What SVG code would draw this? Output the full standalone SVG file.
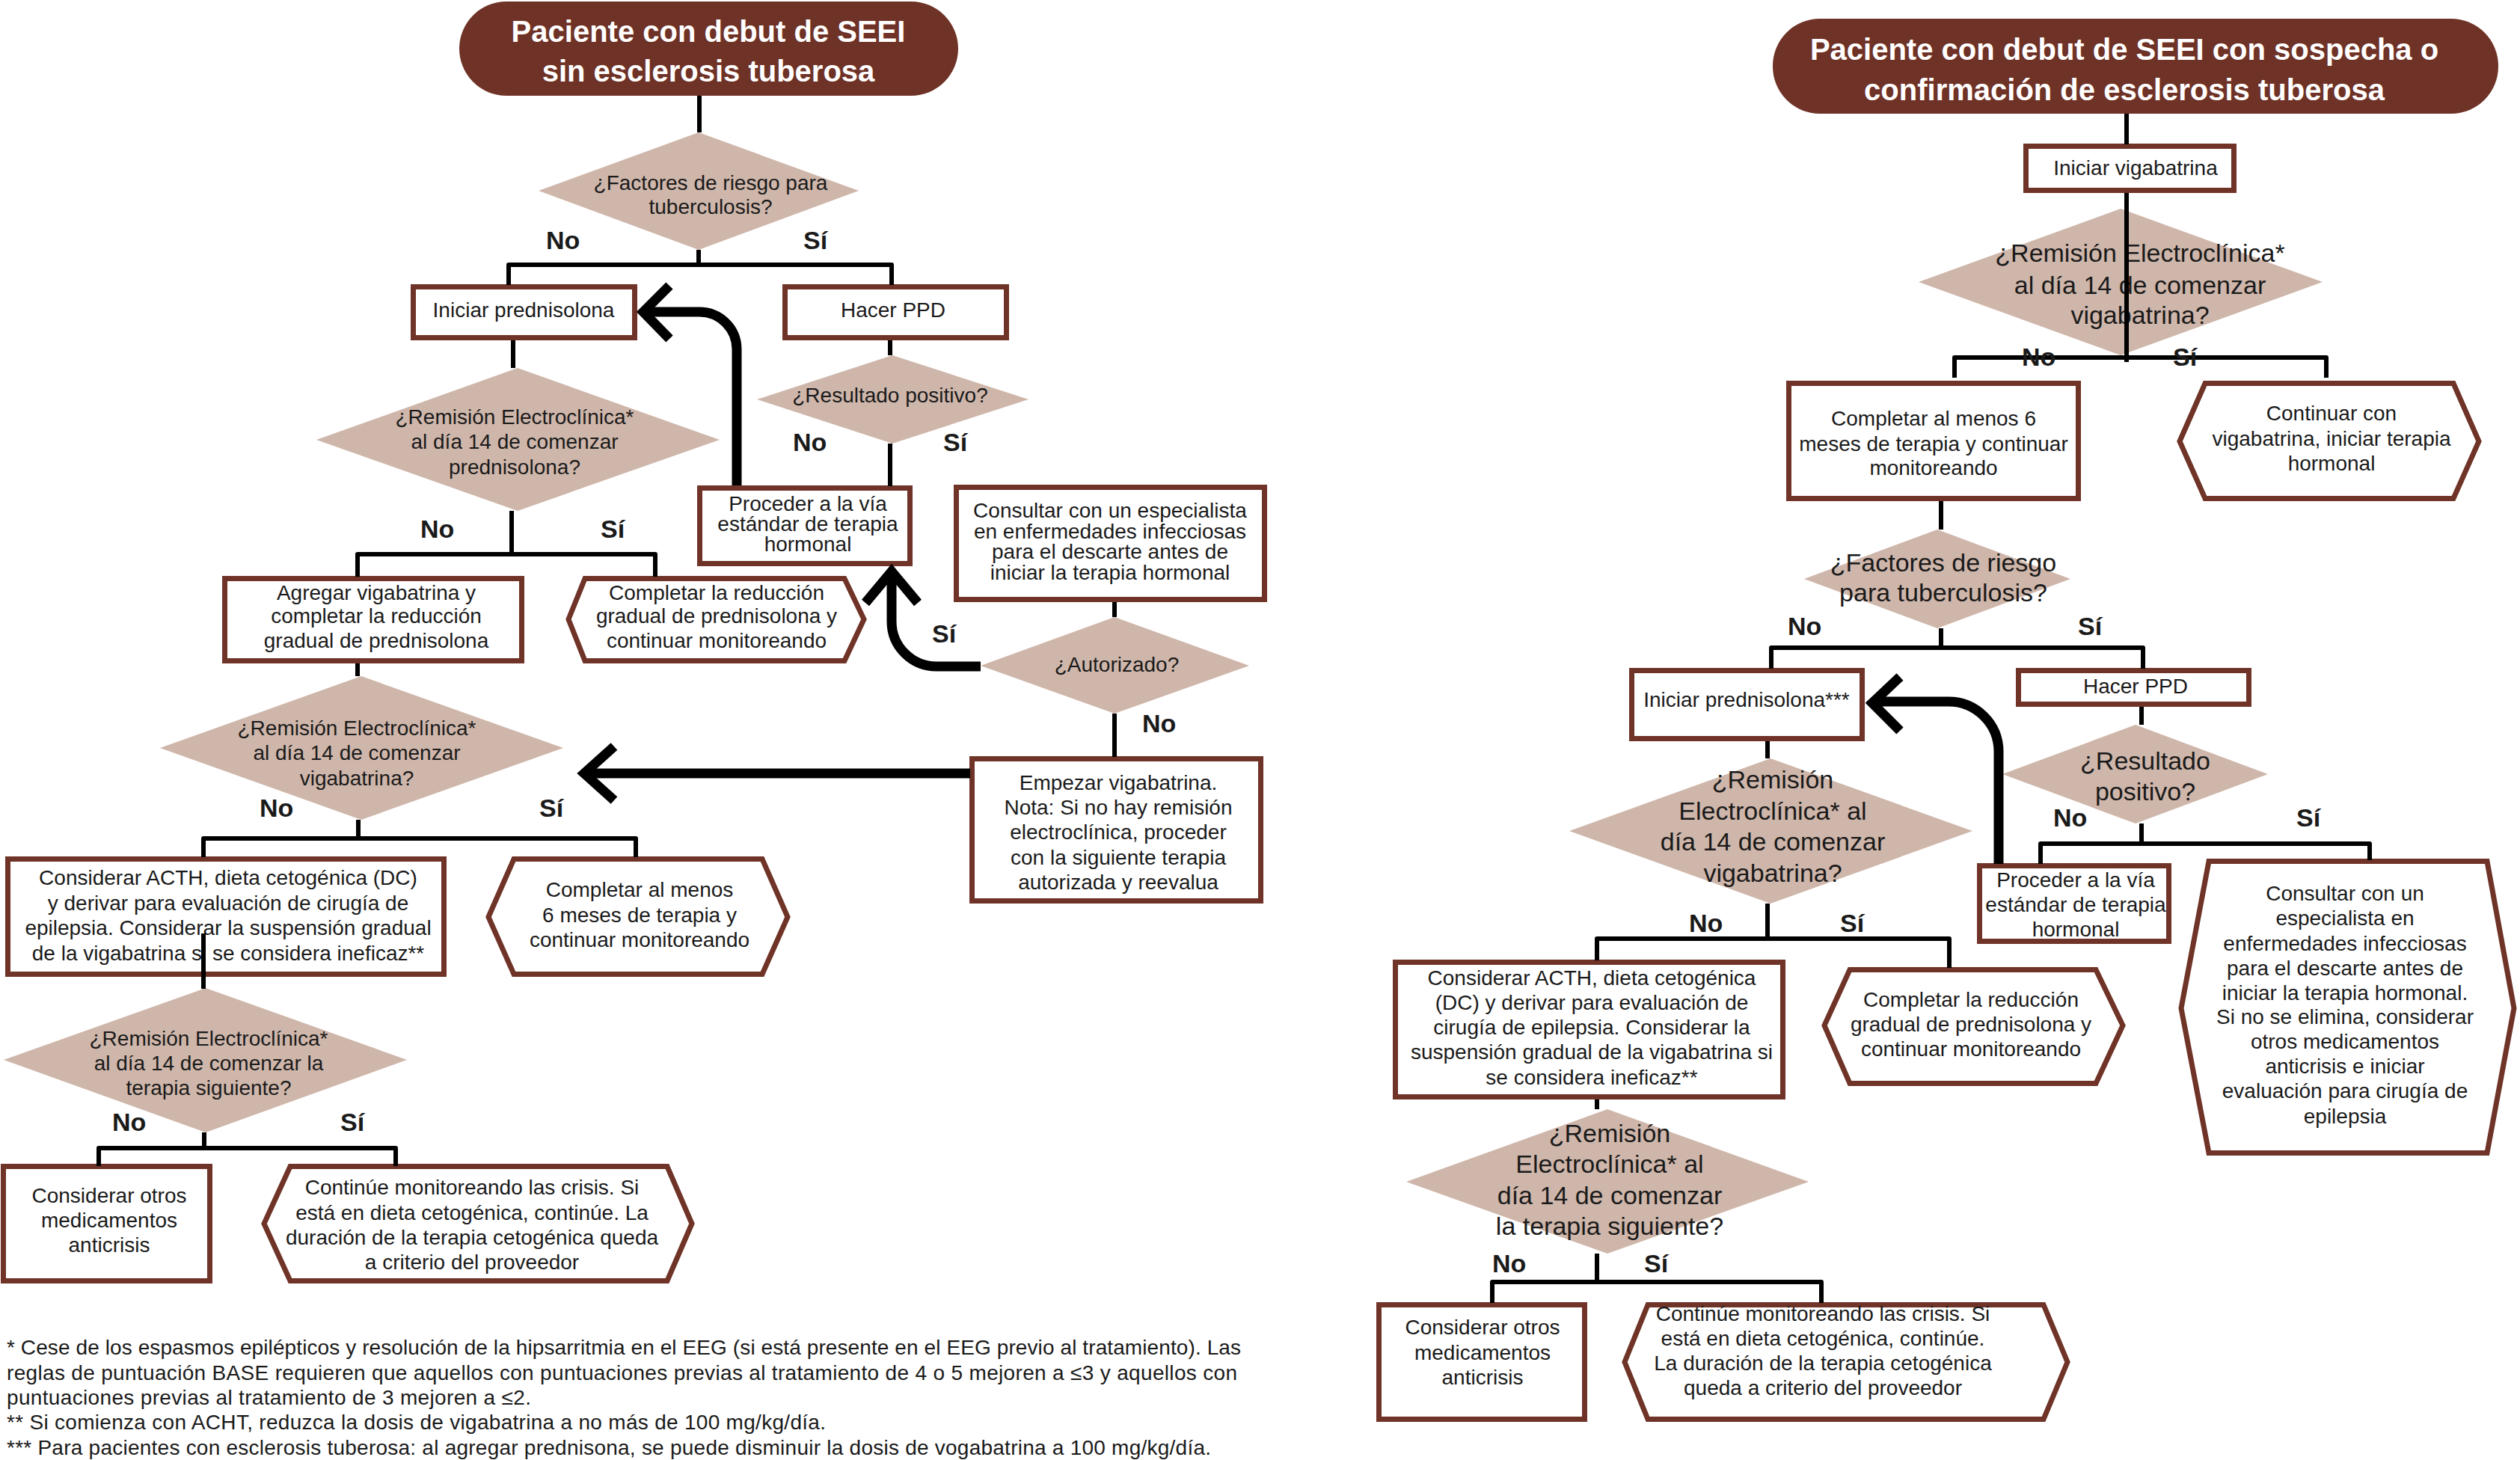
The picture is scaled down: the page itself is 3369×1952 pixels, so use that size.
<svg xmlns="http://www.w3.org/2000/svg" width="3369" height="1952" viewBox="0 0 3369 1952">
<style>
text{font-family:"Liberation Sans",Arial,sans-serif;fill:#1a1a1a}
.t{font-size:28px;text-anchor:middle}
.tb{font-size:34px;text-anchor:middle}
.lab{font-size:34px;font-weight:bold}
.ttl{font-size:40px;font-weight:bold;fill:#ffffff;text-anchor:middle}
.fn{font-size:28px}
.box{fill:#ffffff;stroke:#6f3327;stroke-width:7}
.dia{fill:#cfb6aa}
.pill{fill:#6f3226}
.ln{fill:none;stroke:#000;stroke-width:6;stroke-linejoin:round}
.thick{fill:none;stroke:#000;stroke-width:13}
</style>
<rect width="3369" height="1952" fill="#ffffff"/>

<!-- LEFT PANEL NODES -->
<g id="titleL"><rect class="pill" x="614" y="2" width="667" height="126" rx="63"/>
<text class="ttl" x="947" y="56">Paciente con debut de SEEI</text>
<text class="ttl" x="947" y="109">sin esclerosis tuberosa</text></g>

<g id="dTbL"><polygon class="dia" points="934,177 1148,255 934,334 720,255"/>
<text class="t" x="950" y="254">¿Factores de riesgo para</text>
<text class="t" x="950" y="286">tuberculosis?</text></g>

<g id="bPredL"><rect class="box" x="552.5" y="383.5" width="296" height="68"/>
<text class="t" x="700" y="424">Iniciar prednisolona</text></g>

<g id="bPpdL"><rect class="box" x="1049.5" y="383.5" width="296" height="68"/>
<text class="t" x="1194" y="424">Hacer PPD</text></g>

<g id="dResL"><polygon class="dia" points="1193,475 1375,534 1193,593 1012,534"/>
<text class="t" x="1190" y="538">¿Resultado positivo?</text></g>

<g id="bProcL"><rect class="box" x="935.5" y="652.5" width="281" height="101"/>
<text class="t" x="1080" y="683">Proceder a la vía</text>
<text class="t" x="1080" y="710">estándar de terapia</text>
<text class="t" x="1080" y="737">hormonal</text></g>

<g id="bConsL"><rect class="box" x="1278.5" y="651.5" width="412" height="150"/>
<text class="t" x="1484" y="692">Consultar con un especialista</text>
<text class="t" x="1484" y="720">en enfermedades infecciosas</text>
<text class="t" x="1484" y="747">para el descarte antes de</text>
<text class="t" x="1484" y="775">iniciar la terapia hormonal</text></g>

<g id="dAut"><polygon class="dia" points="1490,825 1670,890 1490,954 1311,890"/>
<text class="t" x="1493" y="898">¿Autorizado?</text></g>

<g id="bEmp"><rect class="box" x="1299.5" y="1014.5" width="386" height="190"/>
<text class="t" x="1495" y="1056">Empezar vigabatrina.</text>
<text class="t" x="1495" y="1089">Nota: Si no hay remisión</text>
<text class="t" x="1495" y="1122">electroclínica, proceder</text>
<text class="t" x="1495" y="1156">con la siguiente terapia</text>
<text class="t" x="1495" y="1189">autorizada y reevalua</text></g>

<g id="dRem1L"><polygon class="dia" points="692,492 962,588 692,683 423,588"/>
<text class="t" x="688" y="567">¿Remisión Electroclínica*</text>
<text class="t" x="688" y="600">al día 14 de comenzar</text>
<text class="t" x="688" y="634">prednisolona?</text></g>

<g id="bAgr"><rect class="box" x="300.5" y="773.5" width="397" height="110"/>
<text class="t" x="503" y="802">Agregar vigabatrina y</text>
<text class="t" x="503" y="833">completar la reducción</text>
<text class="t" x="503" y="866">gradual de prednisolona</text></g>

<g id="hRedL"><polygon class="box" points="760,828 782,773.5 1129,773.5 1155,828 1129,883.5 782,883.5"/>
<text class="t" x="958" y="802">Completar la reducción</text>
<text class="t" x="958" y="833">gradual de prednisolona y</text>
<text class="t" x="958" y="866">continuar monitoreando</text></g>

<g id="dRem2L"><polygon class="dia" points="483,904 753,1000 483,1096 214,1000"/>
<text class="t" x="477" y="983">¿Remisión Electroclínica*</text>
<text class="t" x="477" y="1016">al día 14 de comenzar</text>
<text class="t" x="477" y="1050">vigabatrina?</text></g>

<g id="bActhL"><rect class="box" x="10.5" y="1148.5" width="583" height="154"/>
<text class="t" x="305" y="1183">Considerar ACTH, dieta cetogénica (DC)</text>
<text class="t" x="305" y="1217">y derivar para evaluación de cirugía de</text>
<text class="t" x="305" y="1250">epilepsia. Considerar la suspensión gradual</text>
<text class="t" x="305" y="1284">de la vigabatrina si se considera ineficaz**</text></g>

<g id="h6mL"><polygon class="box" points="653,1226 687,1148.5 1019,1148.5 1053,1226 1019,1302.5 687,1302.5"/>
<text class="t" x="855" y="1199">Completar al menos</text>
<text class="t" x="855" y="1233">6 meses de terapia y</text>
<text class="t" x="855" y="1266">continuar monitoreando</text></g>

<g id="dRem3L"><polygon class="dia" points="275,1321 544,1417 275,1514 5,1417"/>
<text class="t" x="279" y="1398">¿Remisión Electroclínica*</text>
<text class="t" x="279" y="1431">al día 14 de comenzar la</text>
<text class="t" x="279" y="1464">terapia siguiente?</text></g>

<g id="bOtrL"><rect class="box" x="4.5" y="1559.5" width="276" height="153"/>
<text class="t" x="146" y="1608">Considerar otros</text>
<text class="t" x="146" y="1641">medicamentos</text>
<text class="t" x="146" y="1674">anticrisis</text></g>

<g id="hContL"><polygon class="box" points="353,1636 388,1559.5 892,1559.5 925,1636 892,1712.5 388,1712.5"/>
<text class="t" x="631" y="1597">Continúe monitoreando las crisis. Si</text>
<text class="t" x="631" y="1631">está en dieta cetogénica, continúe. La</text>
<text class="t" x="631" y="1664">duración de la terapia cetogénica queda</text>
<text class="t" x="631" y="1697">a criterio del proveedor</text></g>

<!-- RIGHT PANEL NODES -->
<g id="titleR"><rect class="pill" x="2370" y="25" width="970" height="127" rx="63"/>
<text class="ttl" x="2840" y="80">Paciente con debut de SEEI con sospecha o</text>
<text class="ttl" x="2840" y="134">confirmación de esclerosis tuberosa</text></g>

<g id="bVigR"><rect class="box" x="2708.5" y="195.5" width="278" height="59"/>
<text class="t" x="2855" y="234">Iniciar vigabatrina</text></g>

<g id="dRem1R"><polygon class="dia" points="2835,279 3105,377 2835,475 2565,377"/>
<text class="tb" x="2861" y="350">¿Remisión Electroclínica*</text>
<text class="tb" x="2861" y="393">al día 14 de comenzar</text>
<text class="tb" x="2861" y="433">vigabatrina?</text></g>

<g id="b6mR"><rect class="box" x="2391.5" y="512.5" width="387" height="154"/>
<text class="t" x="2585" y="569">Completar al menos 6</text>
<text class="t" x="2585" y="603">meses de terapia y continuar</text>
<text class="t" x="2585" y="635">monitoreando</text></g>

<g id="hVigR"><polygon class="box" points="2914,590 2948,512.5 3280,512.5 3314,590 3280,666.5 2948,666.5"/>
<text class="t" x="3117" y="562">Continuar con</text>
<text class="t" x="3117" y="596">vigabatrina, iniciar terapia</text>
<text class="t" x="3117" y="629">hormonal</text></g>

<g id="dTbR"><polygon class="dia" points="2590,708 2768,774 2590,840 2412,774"/>
<text class="tb" x="2598" y="764">¿Factores de riesgo</text>
<text class="tb" x="2598" y="804">para tuberculosis?</text></g>

<g id="bPredR"><rect class="box" x="2181.5" y="896.5" width="308" height="91"/>
<text class="t" x="2335" y="945">Iniciar prednisolona***</text></g>

<g id="bPpdR"><rect class="box" x="2698.5" y="896.5" width="308" height="45"/>
<text class="t" x="2855" y="927">Hacer PPD</text></g>

<g id="dResR"><polygon class="dia" points="2855,969 3032,1035 2855,1101 2677,1035"/>
<text class="tb" x="2868" y="1029">¿Resultado</text>
<text class="tb" x="2868" y="1070">positivo?</text></g>

<g id="bProcR"><rect class="box" x="2646.5" y="1157.5" width="253" height="101"/>
<text class="t" x="2775" y="1186">Proceder a la vía</text>
<text class="t" x="2775" y="1219">estándar de terapia</text>
<text class="t" x="2775" y="1252">hormonal</text></g>

<g id="hConsR"><polygon class="box" points="2916,1348 2953,1151.5 3325,1151.5 3361,1348 3325,1541.5 2953,1541.5"/>
<text class="t" x="3135" y="1204">Consultar con un</text>
<text class="t" x="3135" y="1237">especialista en</text>
<text class="t" x="3135" y="1271">enfermedades infecciosas</text>
<text class="t" x="3135" y="1304">para el descarte antes de</text>
<text class="t" x="3135" y="1337">iniciar la terapia hormonal.</text>
<text class="t" x="3135" y="1369">Si no se elimina, considerar</text>
<text class="t" x="3135" y="1402">otros medicamentos</text>
<text class="t" x="3135" y="1435">anticrisis e iniciar</text>
<text class="t" x="3135" y="1468">evaluación para cirugía de</text>
<text class="t" x="3135" y="1502">epilepsia</text></g>

<g id="dRem2R"><polygon class="dia" points="2367,1014 2637,1111 2367,1208 2098,1111"/>
<text class="tb" x="2370" y="1054">¿Remisión</text>
<text class="tb" x="2370" y="1096">Electroclínica* al</text>
<text class="tb" x="2370" y="1137">día 14 de comenzar</text>
<text class="tb" x="2370" y="1179">vigabatrina?</text></g>

<g id="bActhR"><rect class="box" x="1865.5" y="1286.5" width="518" height="180"/>
<text class="t" x="2128" y="1317">Considerar ACTH, dieta cetogénica</text>
<text class="t" x="2128" y="1350">(DC) y derivar para evaluación de</text>
<text class="t" x="2128" y="1383">cirugía de epilepsia. Considerar la</text>
<text class="t" x="2128" y="1416">suspensión gradual de la vigabatrina si</text>
<text class="t" x="2128" y="1450">se considera ineficaz**</text></g>

<g id="hRedR"><polygon class="box" points="2439,1371 2473,1296.5 2802,1296.5 2838,1371 2802,1448.5 2473,1448.5"/>
<text class="t" x="2635" y="1346">Completar la reducción</text>
<text class="t" x="2635" y="1379">gradual de prednisolona y</text>
<text class="t" x="2635" y="1412">continuar monitoreando</text></g>

<g id="dRem3R"><polygon class="dia" points="2149,1483 2418,1580 2149,1676 1880,1580"/>
<text class="tb" x="2152" y="1527">¿Remisión</text>
<text class="tb" x="2152" y="1568">Electroclínica* al</text>
<text class="tb" x="2152" y="1610">día 14 de comenzar</text>
<text class="tb" x="2152" y="1651">la terapia siguiente?</text></g>

<g id="bOtrR"><rect class="box" x="1843.5" y="1744.5" width="275" height="153"/>
<text class="t" x="1982" y="1784">Considerar otros</text>
<text class="t" x="1982" y="1818">medicamentos</text>
<text class="t" x="1982" y="1851">anticrisis</text></g>

<g id="hContR"><polygon class="box" points="2172,1821 2203,1744.5 2732,1744.5 2764,1821 2732,1897.5 2203,1897.5"/>
<text class="t" x="2437" y="1766">Continúe monitoreando las crisis. Si</text>
<text class="t" x="2437" y="1799">está en dieta cetogénica, continúe.</text>
<text class="t" x="2437" y="1832">La duración de la terapia cetogénica</text>
<text class="t" x="2437" y="1865">queda a criterio del proveedor</text></g>

<!-- CONNECTORS -->
<g id="connectors">
<line class="ln" x1="935" y1="128" x2="935" y2="177"/>
<line class="ln" x1="934" y1="334" x2="934" y2="354"/>
<polyline class="ln" points="680,381 680,354 1192,354 1192,381"/>
<line class="ln" x1="1190" y1="455" x2="1190" y2="475"/>
<line class="ln" x1="1190" y1="593" x2="1190" y2="650"/>
<line class="ln" x1="1490" y1="805" x2="1490" y2="825"/>
<line class="ln" x1="1490" y1="954" x2="1490" y2="1012"/>
<line class="ln" x1="686" y1="455" x2="686" y2="492"/>
<line class="ln" x1="684" y1="683" x2="684" y2="741"/>
<polyline class="ln" points="478,771 478,741 876,741 876,771"/>
<line class="ln" x1="478" y1="887" x2="478" y2="904"/>
<line class="ln" x1="479" y1="1096" x2="479" y2="1121"/>
<polyline class="ln" points="272,1146 272,1121 850,1121 850,1146"/>
<line class="ln" x1="272" y1="1248" x2="272" y2="1322"/>
<line class="ln" x1="273" y1="1514" x2="273" y2="1535"/>
<polyline class="ln" points="132,1559 132,1535 529,1535 529,1559"/>
<path class="thick" d="M985,649 V467 A50,50 0 0 0 935,417 H860"/>
<polyline class="thick" points="895,382 860,417 895,453"/>
<path class="thick" d="M1311,891 H1252 A60,60 0 0 1 1192,831 V764"/>
<polyline class="thick" points="1157,806 1192,764 1227,806"/>
<line class="thick" x1="1297" y1="1034" x2="780" y2="1034"/>
<polyline class="thick" points="821,998 781,1034 821,1070"/>

<line class="ln" x1="2843" y1="152" x2="2843" y2="193"/>
<line class="ln" x1="2843" y1="258" x2="2843" y2="484"/>
<polyline class="ln" points="2613,505 2613,478 3110,478 3110,505"/>
<line class="ln" x1="2595" y1="670" x2="2595" y2="708"/>
<line class="ln" x1="2595" y1="840" x2="2595" y2="866"/>
<polyline class="ln" points="2368,894 2368,866 2865,866 2865,894"/>
<line class="ln" x1="2863" y1="945" x2="2863" y2="969"/>
<line class="ln" x1="2863" y1="1101" x2="2863" y2="1128"/>
<polyline class="ln" points="2728,1155 2728,1128 3168,1128 3168,1150"/>
<line class="ln" x1="2363" y1="991" x2="2363" y2="1014"/>
<line class="ln" x1="2363" y1="1208" x2="2363" y2="1255"/>
<polyline class="ln" points="2135,1284 2135,1255 2606,1255 2606,1294"/>
<line class="ln" x1="2135" y1="1470" x2="2135" y2="1483"/>
<line class="ln" x1="2135" y1="1676" x2="2135" y2="1714"/>
<polyline class="ln" points="1995,1742 1995,1714 2435,1714 2435,1742"/>
<path class="thick" d="M2672,1155 V1005 A67,67 0 0 0 2605,938 H2503"/>
<polyline class="thick" points="2540,905 2503,940 2540,977"/>
</g>

<!-- LABELS -->
<g id="labels">
<text class="lab" x="730" y="333">No</text>
<text class="lab" x="1074" y="333">Sí</text>
<text class="lab" x="1060" y="603">No</text>
<text class="lab" x="1261" y="603">Sí</text>
<text class="lab" x="1246" y="859">Sí</text>
<text class="lab" x="1527" y="979">No</text>
<text class="lab" x="562" y="719">No</text>
<text class="lab" x="803" y="719">Sí</text>
<text class="lab" x="347" y="1092">No</text>
<text class="lab" x="721" y="1092">Sí</text>
<text class="lab" x="150" y="1512">No</text>
<text class="lab" x="455" y="1512">Sí</text>
<text class="lab" x="2703" y="489">No</text>
<text class="lab" x="2905" y="489">Sí</text>
<text class="lab" x="2390" y="849">No</text>
<text class="lab" x="2778" y="849">Sí</text>
<text class="lab" x="2745" y="1105">No</text>
<text class="lab" x="3070" y="1105">Sí</text>
<text class="lab" x="2258" y="1246">No</text>
<text class="lab" x="2460" y="1246">Sí</text>
<text class="lab" x="1995" y="1701">No</text>
<text class="lab" x="2198" y="1701">Sí</text>
</g>

<!-- FOOTNOTES -->
<g id="footnotes">
<text class="fn" x="9" y="1811" textLength="1650">* Cese de los espasmos epilépticos y resolución de la hipsarritmia en el EEG (si está presente en el EEG previo al tratamiento). Las</text>
<text class="fn" x="9" y="1845" textLength="1645">reglas de puntuación BASE requieren que aquellos con puntuaciones previas al tratamiento de 4 o 5 mejoren a ≤3 y aquellos con</text>
<text class="fn" x="9" y="1878" textLength="701">puntuaciones previas al tratamiento de 3 mejoren a ≤2.</text>
<text class="fn" x="9" y="1911" textLength="1095">** Si comienza con ACHT, reduzca la dosis de vigabatrina a no más de 100 mg/kg/día.</text>
<text class="fn" x="9" y="1945" textLength="1610">*** Para pacientes con esclerosis tuberosa: al agregar prednisona, se puede disminuir la dosis de vogabatrina a 100 mg/kg/día.</text>
</g>
</svg>
